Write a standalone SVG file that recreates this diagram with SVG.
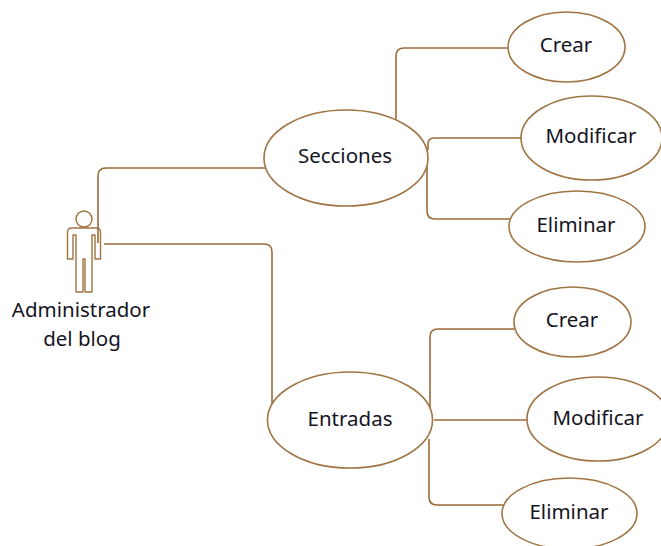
<svg xmlns="http://www.w3.org/2000/svg" width="661" height="546" viewBox="0 0 661 546">
<style>
.n{fill:#fff;stroke:#a07443;stroke-width:1.6}
.c{fill:none;stroke:#9c6a38;stroke-width:1.6}
.a{fill:#fff;stroke:#a07443;stroke-width:1.4;stroke-linejoin:round}
text{font-family:"Noto Sans","Open Sans","DejaVu Sans",sans-serif;font-size:20.500px;fill:#14141e;text-anchor:middle}
</style>
<rect width="661" height="546" fill="#fff"/>
<g id="actor">
<circle class="a" cx="84" cy="219" r="8"/>
<path class="a" d="M72 228H96Q100.500 228 100.500 232V259H95V235H92V292H85V259H83V292H76V235H73V259H67.500V232Q67.500 228 72 228Z"/>
<text x="81" y="317">Administrador</text>
<text x="82" y="346">del blog</text>
</g>
<g id="connectors">
<path class="c" d="M98 243V176Q98 168 106 168H268"/>
<path class="c" d="M104 244H264Q272 244 272 252V410"/>
<path class="c" d="M396 120V56Q396 48 404 48H508"/>
<path class="c" d="M428 150V144Q428 138 434 138H521"/>
<path class="c" d="M427 165V211Q427 219 435 219H510"/>
<path class="c" d="M430 409V337Q430 329 438 329H515"/>
<path class="c" d="M434 420H527"/>
<path class="c" d="M429 439V497Q429 505 437 505H507"/>
</g>
<g id="secciones"><ellipse class="n" cx="346" cy="158" rx="82" ry="48"/><text x="345" y="163">Secciones</text></g>
<g id="entradas"><ellipse class="n" cx="350" cy="420" rx="82.500" ry="48"/><text x="350" y="426">Entradas</text></g>
<g id="crear1"><ellipse class="n" cx="566.500" cy="47" rx="58.500" ry="35"/><text x="566" y="52">Crear</text></g>
<g id="modificar1"><ellipse class="n" cx="591.500" cy="138" rx="70.500" ry="42"/><text x="591" y="143">Modificar</text></g>
<g id="eliminar1"><ellipse class="n" cx="577" cy="226.500" rx="68" ry="35.500"/><text x="576" y="232">Eliminar</text></g>
<g id="crear2"><ellipse class="n" cx="572.500" cy="322" rx="58.500" ry="35"/><text x="572" y="327">Crear</text></g>
<g id="modificar2"><ellipse class="n" cx="598" cy="419" rx="71" ry="42"/><text x="598" y="425">Modificar</text></g>
<g id="eliminar2"><ellipse class="n" cx="569.500" cy="513.500" rx="67.500" ry="35.500"/><text x="569" y="519">Eliminar</text></g>
</svg>
